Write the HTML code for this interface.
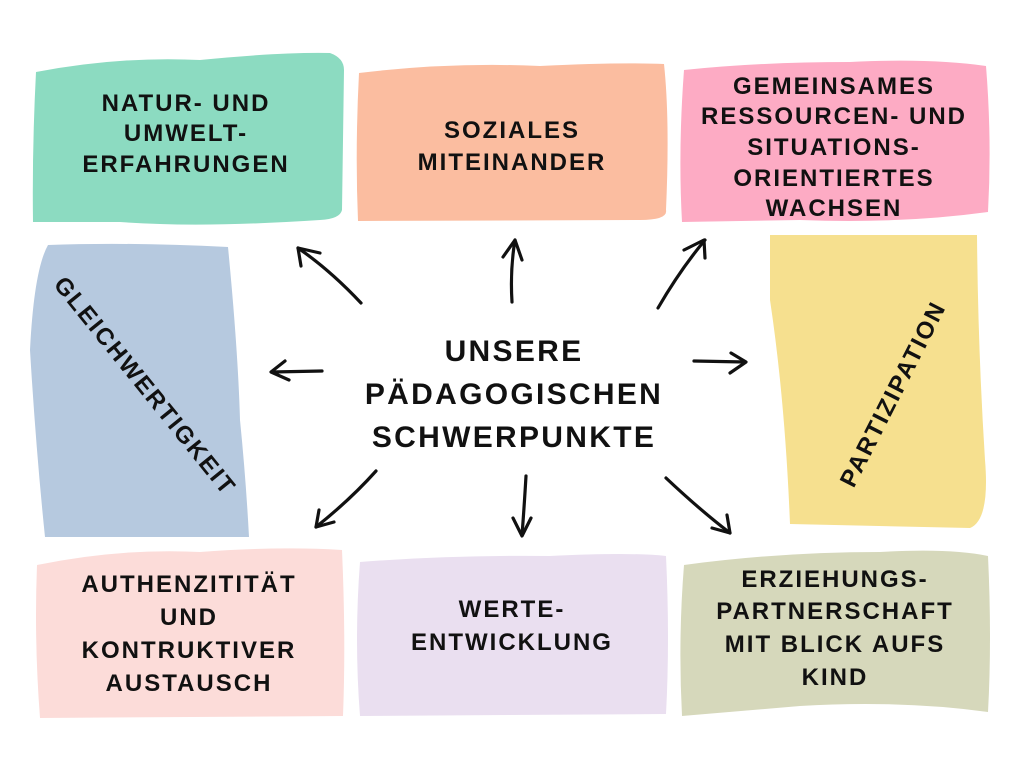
<!DOCTYPE html>
<html><head><meta charset="utf-8"><style>
html,body{margin:0;padding:0;background:#fff;}
svg{display:block}
text{font-family:"Liberation Sans",sans-serif;font-weight:bold;fill:#111;text-anchor:middle;}
.t{font-size:24px;letter-spacing:2px}
.c{font-size:30px;letter-spacing:2.3px}
</style></head><body>
<svg width="1024" height="768" viewBox="0 0 1024 768">
<path d="M36 72 Q120 56 200 60 Q280 52 330 53 Q344 58 344 70 L342 210 Q340 219 320 220 Q200 228 120 222 L33 222 Q32 150 36 72Z" fill="#8cdbc1"/>
<path d="M359 73 Q450 62 540 66 Q620 62 664 64 Q670 120 666 210 Q668 220 640 220 L358 221 Q355 150 359 73Z" fill="#fbbda0"/>
<path d="M684 70 Q760 62 850 62 Q930 58 986 66 Q992 140 988 212 Q900 224 800 220 L682 222 Q678 150 684 70Z" fill="#fdabc4"/>
<path d="M48 245 Q130 242 228 247 Q238 350 240 420 Q246 480 249 537 L45 537 Q36 450 30 350 Q34 270 48 245Z" fill="#b6c9df"/>
<path d="M770 235 L977 235 Q978 350 985 460 Q990 520 970 528 L790 524 Q785 400 770 300Z" fill="#f6e08f"/>
<path d="M37 565 Q120 548 200 552 Q280 546 342 550 Q346 640 343 716 L40 718 Q34 640 37 565Z" fill="#fcdcd9"/>
<path d="M360 562 Q450 555 550 556 Q630 552 666 556 Q670 640 666 714 L360 716 Q354 640 360 562Z" fill="#eadff0"/>
<path d="M684 565 Q780 552 880 552 Q950 548 988 556 Q992 640 988 712 Q900 700 800 706 L682 716 Q678 640 684 565Z" fill="#d6d8bb"/>
<text class="t"><tspan x="186" y="111">NATUR- UND</tspan><tspan x="186" y="141">UMWELT-</tspan><tspan x="186" y="172">ERFAHRUNGEN</tspan></text>
<text class="t"><tspan x="512" y="138">SOZIALES</tspan><tspan x="512" y="170">MITEINANDER</tspan></text>
<text class="t"><tspan x="834" y="94">GEMEINSAMES</tspan><tspan x="834" y="124">RESSOURCEN- UND</tspan><tspan x="834" y="155">SITUATIONS-</tspan><tspan x="834" y="186">ORIENTIERTES</tspan><tspan x="834" y="216">WACHSEN</tspan></text>
<text class="t" transform="translate(145,386) rotate(51)" y="8">GLEICHWERTIGKEIT</text>
<text class="t" transform="translate(893,394) rotate(-63)" y="8">PARTIZIPATION</text>
<text class="c"><tspan x="514" y="361">UNSERE</tspan><tspan x="514" y="404">PÄDAGOGISCHEN</tspan><tspan x="514" y="447">SCHWERPUNKTE</tspan></text>
<text class="t"><tspan x="189" y="592">AUTHENZITITÄT</tspan><tspan x="189" y="625">UND</tspan><tspan x="189" y="658">KONTRUKTIVER</tspan><tspan x="189" y="691">AUSTAUSCH</tspan></text>
<text class="t"><tspan x="512" y="617">WERTE-</tspan><tspan x="512" y="650">ENTWICKLUNG</tspan></text>
<text class="t"><tspan x="835" y="587">ERZIEHUNGS-</tspan><tspan x="835" y="619">PARTNERSCHAFT</tspan><tspan x="835" y="652">MIT BLICK AUFS</tspan><tspan x="835" y="685">KIND</tspan></text>
<g fill="none" stroke="#111" stroke-width="3.2" stroke-linecap="round" stroke-linejoin="round">
<path d="M361 303 Q330 270 298 248"/><path d="M301 266 L298 248 L320 253"/>
<path d="M512 302 Q510 270 515 240"/><path d="M503 257 L515 240 L522 260"/>
<path d="M658 308 Q680 270 705 240"/><path d="M684 250 L704 240 L705 258"/>
<path d="M322 371 L272 372"/><path d="M285 361 L271 372 L289 380"/>
<path d="M694 361 L745 362"/><path d="M731 353 L746 362 L730 373"/>
<path d="M376 471 Q350 500 316 527"/><path d="M319 510 L316 527 L334 522"/>
<path d="M526 476 Q524 510 522 535"/><path d="M513 518 L522 536 L531 518"/>
<path d="M666 478 Q700 510 730 533"/><path d="M712 528 L730 533 L727 515"/>
</g>
</svg>
</body></html>
